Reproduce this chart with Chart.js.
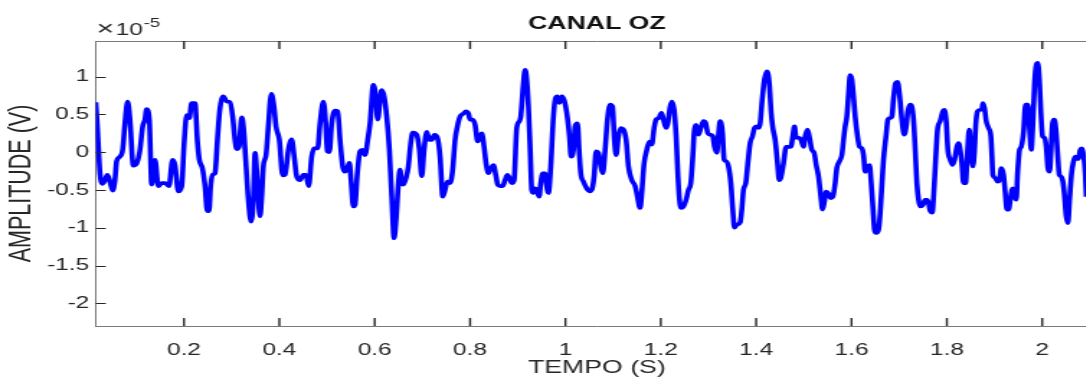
<!DOCTYPE html>
<html>
<head>
<meta charset="utf-8">
<title>Canal OZ</title>
<script src="https://cdn.jsdelivr.net/npm/chart.js@4.4.1/dist/chart.umd.min.js"></script>
<style>
    html, body { margin: 0; padding: 0; background: #fff; overflow: hidden; }
    #wrap { width: 1086px; height: 387px; overflow: hidden; }
    /* the figure is drawn narrow and widened, like the exported MATLAB image */
    #ozChart { transform: scale(1.44, 1); transform-origin: 0 0; }
</style>
</head>
<body>
<div id="wrap"><canvas id="ozChart" width="765" height="387"></canvas></div>
<script>
(function () {
    'use strict';

    // time axis (s)
    var timeS = [
        0.0150,0.0182,0.0238,0.0294,0.0343,0.0392,0.0448,0.0503,0.0552,0.0587,
        0.0657,0.0713,0.0762,0.0818,0.0867,0.0937,0.1007,0.1077,0.1133,0.1182,
        0.1217,0.1273,0.1322,0.1357,0.1392,0.1462,0.1531,0.1601,0.1685,0.1762,
        0.1811,0.1881,0.1951,0.2007,0.2056,0.2112,0.2161,0.2231,0.2280,0.2322,
        0.2385,0.2441,0.2490,0.2524,0.2559,0.2601,0.2650,0.2706,0.2755,0.2825,
        0.2895,0.2965,0.3021,0.3070,0.3105,0.3154,0.3210,0.3245,0.3294,0.3350,
        0.3406,0.3455,0.3490,0.3545,0.3594,0.3629,0.3664,0.3720,0.3769,0.3832,
        0.3888,0.3930,0.4000,0.4070,0.4119,0.4189,0.4259,0.4308,0.4364,0.4434,
        0.4503,0.4559,0.4615,0.4678,0.4727,0.4804,0.4853,0.4923,0.4972,0.5007,
        0.5049,0.5098,0.5168,0.5224,
        0.5273,0.5329,0.5378,0.5427,0.5469,0.5504,0.5552,0.5587,0.5636,0.5692,
        0.5741,0.5797,0.5853,0.5902,0.5972,0.6021,0.6063,0.6112,0.6147,0.6196,
        0.6252,0.6308,0.6357,0.6406,0.6448,0.6497,0.6531,0.6566,0.6601,0.6657,
        0.6706,0.6755,0.6797,0.6881,0.6937,0.6986,0.7035,0.7091,0.7147,0.7196,
        0.7252,0.7315,0.7371,0.7427,0.7476,0.7524,0.7580,0.7636,0.7685,0.7734,
        0.7790,0.7860,0.7916,0.7965,0.8000,0.8056,0.8105,0.8161,0.8210,0.8245,
        0.8294,0.8336,0.8385,0.8441,0.8490,0.8538,0.8580,0.8629,0.8685,0.8734,
        0.8783,0.8825,0.8874,0.8923,0.8979,0.9035,0.9063,0.9119,0.9154,0.9189,
        0.9224,0.9259,0.9294,0.9329,0.9364,0.9399,0.9448,0.9483,0.9524,0.9573,
        0.9608,0.9643,0.9692,0.9748,0.9790,0.9832,0.9874,0.9923,0.9972,1.0028,
        1.0084,1.0119,1.0168,1.0203,1.0252,
        1.0287,1.0322,1.0378,1.0448,1.0503,1.0552,1.0601,1.0643,1.0692,1.0741,1.0783,
        1.0832,1.0881,1.0937,1.0986,1.1028,1.1063,1.1112,1.1161,1.1217,1.1273,
        1.1322,1.1392,1.1462,1.1510,1.1566,1.1601,1.1650,1.1706,1.1762,1.1811,
        1.1860,1.1902,1.1958,1.2014,1.2056,1.2112,1.2147,1.2196,1.2231,1.2280,
        1.2322,1.2357,1.2392,1.2427,1.2476,1.2531,1.2580,1.2629,1.2671,1.2699,
        1.2741,1.2790,1.2839,1.2895,1.2944,1.2986,1.3035,1.3091,1.3126,1.3175,
        1.3210,1.3245,1.3294,1.3329,1.3371,1.3420,1.3469,1.3510,1.3545,1.3594,
        1.3664,1.3699,1.3734,1.3783,1.3825,1.3874,1.3923,1.3965,1.4014,1.4056,
        1.4084,1.4126,1.4175,1.4224,1.4273,1.4315,1.4350,1.4399,1.4448,1.4483,
        1.4517,1.4573,1.4629,1.4678,1.4727,1.4769,1.4804,1.4839,1.4888,1.4944,
        1.4993,1.5028,1.5077,1.5119,1.5168,
        1.5217,1.5259,1.5308,1.5357,1.5392,1.5427,1.5469,1.5517,1.5566,1.5608,
        1.5657,1.5692,1.5748,1.5797,1.5832,1.5867,1.5902,1.5937,1.5972,1.6007,
        1.6042,1.6077,1.6126,1.6168,1.6217,1.6252,1.6287,1.6336,1.6378,1.6413,
        1.6448,1.6483,1.6517,1.6566,1.6601,1.6636,1.6671,1.6727,1.6762,1.6811,
        1.6846,1.6881,1.6923,1.6965,1.7007,1.7056,1.7105,1.7147,1.7182,1.7231,
        1.7266,1.7301,1.7336,1.7371,1.7406,1.7441,1.7497,1.7545,1.7580,1.7615,
        1.7650,1.7692,1.7734,1.7776,1.7804,1.7860,1.7916,1.7944,1.7986,1.8021,
        1.8070,1.8119,1.8161,1.8210,1.8245,1.8280,1.8315,1.8350,1.8392,1.8434,
        1.8469,1.8503,1.8545,1.8580,1.8608,1.8643,1.8699,1.8734,1.8755,1.8790,
        1.8825,1.8874,1.8923,1.8944,1.8965,1.9014,1.9063,1.9105,1.9140,1.9189,
        1.9224,1.9259,1.9294,1.9329,1.9364,1.9385,1.9420,1.9455,1.9483,1.9524,
        1.9559,1.9608,1.9650,1.9699,1.9734,1.9769,1.9804,1.9839,1.9874,1.9909,
        1.9944,1.9972,2.0007,2.0049,2.0084,2.0119,2.0154,2.0182,2.0217,2.0252,
        2.0287,2.0322,2.0357,2.0392,2.0427,2.0462,2.0503,2.0538,2.0573,2.0615,
        2.0657,2.0692,2.0727,2.0762,2.0797,2.0832,2.0867,2.0902,2.0923
    ];

    // channel OZ amplitude, in units of 1e-5 V
    var amplitudeE5 = [
        0.66,0.34,-0.28,-0.42,-0.37,-0.30,-0.39,-0.51,-0.37,-0.12,
        -0.06,0.03,0.38,0.67,0.43,-0.18,-0.15,0.03,0.34,0.43,
        0.57,0.43,-0.43,-0.28,-0.10,-0.45,-0.41,-0.41,-0.45,-0.10,
        -0.17,-0.52,-0.45,0.16,0.49,0.45,0.65,0.65,0.16,-0.10,
        -0.21,-0.45,-0.78,-0.78,-0.45,-0.30,-0.28,0.21,0.58,0.74,
        0.67,0.66,0.47,0.16,0.04,0.07,0.46,0.34,-0.10,-0.63,
        -0.92,-0.63,-0.01,-0.45,-0.85,-0.59,-0.19,-0.04,0.34,0.77,
        0.60,0.34,0.16,-0.31,-0.30,0.03,0.17,-0.04,-0.32,-0.37,
        -0.30,-0.30,-0.45,-0.06,0.05,0.05,0.38,0.67,0.38,0.01,
        0.00,0.38,0.55,0.54,
        0.16,-0.19,-0.26,-0.21,-0.14,-0.37,-0.72,-0.70,-0.28,0.01,
        0.03,-0.04,0.16,0.38,0.89,0.74,0.43,0.69,0.82,0.74,
        0.47,0.03,-0.59,-1.14,-0.89,-0.41,-0.23,-0.41,-0.43,-0.34,
        -0.19,0.12,0.26,0.23,0.03,-0.32,0.03,0.27,0.16,0.16,
        0.23,0.19,-0.06,-0.59,-0.50,-0.39,-0.41,-0.23,0.16,0.34,
        0.47,0.51,0.54,0.51,0.43,0.43,0.36,0.14,0.21,0.25,
        0.07,-0.15,-0.28,-0.21,-0.17,-0.30,-0.43,-0.45,-0.45,-0.37,
        -0.30,-0.34,-0.41,-0.37,0.32,0.41,0.47,0.91,1.09,0.96,
        0.60,0.07,-0.50,-0.54,-0.48,-0.50,-0.59,-0.41,-0.28,-0.28,
        -0.45,-0.54,-0.19,0.47,0.71,0.74,0.65,0.74,0.69,0.52,
        0.21,-0.06,0.03,0.34,0.38,
        0.03,-0.28,-0.39,-0.48,-0.52,-0.50,-0.32,0.01,-0.01,-0.19,-0.28,
        0.03,0.43,0.63,0.60,0.16,-0.04,0.21,0.32,0.30,0.16,
        -0.19,-0.37,-0.45,-0.59,-0.74,-0.54,-0.15,0.03,0.14,0.10,
        0.32,0.43,0.45,0.52,0.43,0.32,0.38,0.60,0.67,0.56,
        0.21,-0.28,-0.63,-0.74,-0.72,-0.63,-0.50,-0.41,-0.06,0.25,
        0.36,0.23,0.32,0.41,0.38,0.25,0.23,0.21,0.07,-0.01,
        0.23,0.41,0.25,-0.10,-0.12,-0.19,-0.41,-0.76,-1.00,-0.96,
        -0.93,-0.76,-0.50,-0.41,-0.15,0.12,0.21,0.32,0.34,0.32,
        0.38,0.69,0.96,1.07,0.93,0.52,0.32,0.16,-0.15,-0.37,
        -0.34,-0.15,0.07,0.07,0.07,0.21,0.34,0.19,0.19,0.16,
        0.07,0.21,0.30,0.19,0.03,
        -0.01,-0.17,-0.32,-0.59,-0.76,-0.67,-0.52,-0.55,-0.61,-0.59,
        -0.41,-0.21,-0.12,-0.04,0.16,0.34,0.47,0.76,1.02,0.96,
        0.74,0.47,0.21,0.07,0.05,-0.04,-0.26,-0.19,-0.17,-0.41,
        -0.72,-1.03,-1.07,-1.03,-0.81,-0.45,-0.10,0.23,0.43,0.45,
        0.47,0.71,0.91,0.93,0.76,0.43,0.23,0.34,0.54,0.63,
        0.60,0.43,0.03,-0.41,-0.63,-0.72,-0.70,-0.63,-0.63,-0.67,
        -0.78,-0.80,-0.45,0.03,0.30,0.41,0.54,0.56,0.41,0.03,
        -0.10,-0.17,-0.10,0.07,0.12,0.03,-0.15,-0.41,-0.41,0.03,
        0.30,0.05,-0.19,0.03,0.38,0.54,0.56,0.56,0.65,0.58,
        0.41,0.32,0.21,-0.04,-0.30,-0.34,-0.39,-0.37,-0.21,-0.30,
        -0.54,-0.76,-0.76,-0.63,-0.50,-0.48,-0.59,-0.63,-0.28,0.03,
        0.07,0.27,0.63,0.63,0.30,0.03,0.38,0.91,1.15,1.18,
        0.91,0.52,0.21,0.19,0.07,-0.21,-0.26,-0.01,0.38,0.43,
        0.30,-0.01,-0.30,-0.32,-0.37,-0.54,-0.85,-0.94,-0.63,-0.28,
        -0.12,-0.06,-0.09,-0.09,0.03,0.05,-0.04,-0.28,-0.59
    ];

    var xTickValues = [0.2, 0.4, 0.6, 0.8, 1, 1.2, 1.4, 1.6, 1.8, 2];
    var yTickValues = [-2, -1.5, -1, -0.5, 0, 0.5, 1];

    var FONT = '"Liberation Sans", Arial, Helvetica, sans-serif';
    var TEXT = '#262626';
    var AXIS = '#7a7a7a';

    function fmt(v) { return String(Math.round(v * 10) / 10); }

    // MATLAB style box: top/right edges, inward ticks, x10^-5 multiplier
    var matlabAxes = {
        id: 'matlabAxes',
        afterDraw: function (chart) {
            var ctx = chart.ctx, a = chart.chartArea;
            var xs = chart.scales.x, ys = chart.scales.y;
            ctx.save();
            ctx.strokeStyle = AXIS;
            ctx.lineWidth = 1;
            ctx.beginPath();
            ctx.moveTo(a.left, a.top + 0.5); ctx.lineTo(a.right, a.top + 0.5);
            ctx.moveTo(a.right - 0.5, a.top); ctx.lineTo(a.right - 0.5, a.bottom);
            ctx.stroke();

            ctx.strokeStyle = TEXT;
            ctx.lineWidth = 1.4;
            ctx.beginPath();
            xTickValues.forEach(function (v) {
                var px = xs.getPixelForValue(v);
                ctx.moveTo(px, a.bottom); ctx.lineTo(px, a.bottom - 8);
                ctx.moveTo(px, a.top);    ctx.lineTo(px, a.top + 8);
            });
            ctx.stroke();
            ctx.lineWidth = 1;
            ctx.beginPath();
            yTickValues.forEach(function (v) {
                var py = Math.round(ys.getPixelForValue(v)) + 0.5;
                ctx.moveTo(a.left, py);  ctx.lineTo(a.left + 7, py);
                ctx.moveTo(a.right, py); ctx.lineTo(a.right - 7, py);
            });
            ctx.stroke();

            // exponent label above the y axis
            ctx.fillStyle = TEXT;
            ctx.textAlign = 'left';
            ctx.textBaseline = 'alphabetic';
            var x0 = a.left + 0.5;
            ctx.font = '21px ' + FONT;
            ctx.fillText('\u00d7', x0, 35);
            x0 += ctx.measureText('\u00d7').width + 1;
            ctx.font = '17px ' + FONT;
            ctx.fillText('10', x0, 35);
            x0 += ctx.measureText('10').width + 0.6;
            ctx.font = '13px ' + FONT;
            ctx.fillText('-5', x0, 27);
            ctx.restore();
        }
    };

    var points = timeS.map(function (t, i) { return { x: t, y: amplitudeE5[i] }; });

    new Chart(document.getElementById('ozChart'), {
        type: 'line',
        data: {
            datasets: [{
                data: points,
                borderColor: '#0000ff',
                borderWidth: 3.6,
                pointRadius: 0,
                fill: false,
                cubicInterpolationMode: 'monotone'
            }]
        },
        options: {
            responsive: false,
            animation: false,
            events: [],
            layout: { padding: { left: 0, right: 2.5, top: 0, bottom: 0 } },
            plugins: {
                legend: { display: false },
                tooltip: { enabled: false },
                title: {
                    display: true,
                    text: 'CANAL OZ',
                    fullSize: false,
                    color: '#111',
                    font: { family: FONT, size: 18.5, weight: 'bold', lineHeight: 1.2 },
                    padding: { top: 13, bottom: 5.8 }
                }
            },
            scales: {
                x: {
                    type: 'linear',
                    min: 0.015, max: 2.117,
                    grid: { display: false, drawTicks: false },
                    border: { display: true, color: AXIS, width: 1 },
                    afterBuildTicks: function (s) { s.ticks = xTickValues.map(function (v) { return { value: v }; }); },
                    afterFit: function (s) { s.height = 61; },
                    ticks: {
                        autoSkip: false, maxRotation: 0, padding: 14,
                        color: TEXT, font: { family: FONT, size: 17 },
                        callback: function (v) { return fmt(v); }
                    },
                    title: {
                        display: true, text: 'TEMPO (S)', color: TEXT,
                        font: { family: FONT, size: 18.5, lineHeight: 1.2 },
                        padding: { top: 0, bottom: 7.5 }
                    }
                },
                y: {
                    type: 'linear',
                    min: -2.3, max: 1.47,
                    grid: { display: false, drawTicks: false },
                    border: { display: true, color: AXIS, width: 1 },
                    afterBuildTicks: function (s) { s.ticks = yTickValues.map(function (v) { return { value: v }; }); },
                    afterFit: function (s) { s.width = 66.5; },
                    ticks: {
                        autoSkip: false, padding: 4.5,
                        color: TEXT, font: { family: FONT, size: 17 },
                        callback: function (v) { return fmt(v); }
                    },
                    title: {
                        display: true, text: 'AMPLITUDE (V)', color: TEXT,
                        font: { family: FONT, size: 21.5, lineHeight: 1.2 },
                        padding: { top: 2.5, bottom: 0 }
                    }
                }
            }
        },
        plugins: [matlabAxes]
    });
})();
</script>
</body>
</html>
